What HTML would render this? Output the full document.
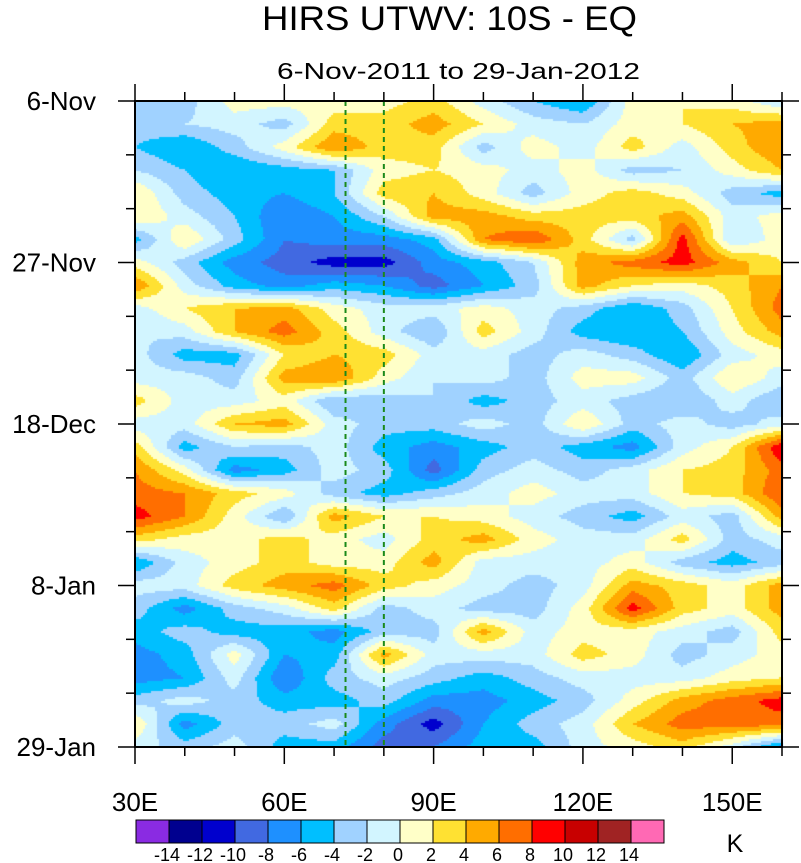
<!DOCTYPE html>
<html><head><meta charset="utf-8"><style>
body{margin:0;background:#fff;font-family:"Liberation Sans",sans-serif;}
#wrap{position:relative;width:801px;height:863px;overflow:hidden;}
canvas{position:absolute;left:0;top:0}
</style></head><body>
<div id="wrap">
<canvas id="heat" width="801" height="863"></canvas>
<svg id="ov" width="801" height="863" style="position:absolute;left:0;top:0">
<text x="262" y="30" font-size="34" textLength="375" lengthAdjust="spacingAndGlyphs">HIRS UTWV: 10S - EQ</text>
<text x="277" y="79" font-size="23" textLength="363" lengthAdjust="spacingAndGlyphs">6-Nov-2011 to 29-Jan-2012</text>
<text x="735" y="852" font-size="25" text-anchor="middle">K</text>
</svg>
</div>
<script>
const lons=[30,40,50,60,70,80,90,100,110,120,130,140,150,160];
const days=[0,3,6,9,12,15,18,21,24,27,30,33,36,39,42,45,48,51,54,57,60,63,66,69,72,75,78,81,84];
const vals=[
[-2,-3,1,1,1,1,3,-1,-4,-6,1,2,1,-2],
[-3,-2,-1,-3,3,3,5,2,-1,-2,1,2,4,5],
[-4,-6,-3,1,6,3,3,-3,1,-1,3,-1,3,6],
[-2,-4,-6,-5,-4,1,2,1,-1,1,-3,-2,1,4],
[2,-3,-5,-6,-4,3,4,1,-3,1,3,1,-3,-5],
[2,-1,-4,-8,-6,-2,5,5,3,3,3,5,-1,1],
[-5,2,-3,-8,-7,-7,-5,6,8,3,-3,9,-2,1],
[1,-3,-7,-9,-11,-11,-7,-5,-2,5,7,9,5,2],
[6,-1,-5,-7,-5,-6,-9,-6,-3,5,2,1,3,6],
[-1,2,4,5,1,-1,-1,1,-1,-3,-6,-3,2,7],
[-2,-1,4,7,3,-1,-4,3,-1,-5,-6,-4,1,5],
[-1,-5,-5,2,4,3,-1,-1,-3,-1,-3,-6,-1,1],
[-1,-1,-3,5,6,1,-2,-1,-3,1,1,-3,2,-1],
[3,-1,-1,1,-4,-3,-2,-5,-3,-1,-3,-4,-1,-4],
[-1,-1,4,5,-1,-3,-3,-1,-3,2,-3,-1,-3,-1],
[3,-5,-2,-3,-1,-5,-7,-5,-3,-5,-7,-1,2,10],
[6,1,-7,-5,-1,-3,-9,-3,-1,-3,-1,2,3,7],
[7,6,3,1,-3,-5,-3,-1,1,-1,-1,2,3,8],
[9,6,1,-4,5,2,2,1,-1,-3,-5,-1,-3,5],
[3,1,1,3,1,-1,3,5,1,-1,-1,3,-3,-1],
[-6,-1,1,3,1,1,5,-1,-1,-1,1,-3,-5,-3],
[-1,-1,3,5,7,3,1,-1,-3,-1,5,3,1,5],
[-3,-7,-3,-1,3,-3,-1,-3,-3,1,9,3,1,5],
[-5,-3,-5,-5,-7,-3,-3,5,-1,1,1,-1,-3,3],
[-7,-5,1,-6,-5,5,-1,-1,-1,3,1,-3,-1,1],
[-7,-6,-1,-8,-3,-1,-3,-5,-3,-1,-1,-1,1,2],
[-3,-1,-3,-5,-5,-3,-7,-7,-5,-3,1,5,7,9],
[2,-7,-3,-3,-1,-7,-11,-6,-3,-1,4,7,7,7],
[-1,-3,-1,-5,-5,-9,-8,-5,-5,-1,1,3,-1,-7]
];
const levels=[-14,-12,-10,-8,-6,-4,-2,0,2,4,6,8,10,12,14];
const levelLabels=["-14","-12","-10","-8","-6","-4","-2","0","2","4","6","8","10","12","14"];
const colors=["#8a2be2","#00008f","#0000cd","#4169e1","#1e90ff","#00bfff","#a0d2ff","#d2f5ff","#ffffc8","#ffe132","#ffaa00","#ff6e00","#ff0000","#c80000","#a02323","#ff69b4"];
const dashLons=[72.3,80];
const xTicksMajor=[30,60,90,120,150];
const xLabels=["30E","60E","90E","120E","150E"];
const yTickDays=[0,7,14,21,28,35,42,49,56,63,70,77,84];
const yLabelDays=[0,21,42,63,84];
const yLabels=["6-Nov","27-Nov","18-Dec","8-Jan","29-Jan"];

const L=135,R=782,T=101,B=747;
const xs=lon=>L+(lon-30)/(160-30)*(R-L);
const ys=d=>T+d/84*(B-T);
function colorFor(v){let i=0;while(i<levels.length&&v>=levels[i])i++;return colors[i];}
function sample(lon,d){
  let i=0;while(i<lons.length-2&&lon>lons[i+1])i++;
  let j=0;while(j<days.length-2&&d>days[j+1])j++;
  const fx=Math.min(1,Math.max(0,(lon-lons[i])/(lons[i+1]-lons[i])));
  const fy=Math.min(1,Math.max(0,(d-days[j])/(days[j+1]-days[j])));
  const a=vals[j][i],b=vals[j][i+1],c=vals[j+1][i],e=vals[j+1][i+1];
  return a*(1-fx)*(1-fy)+b*fx*(1-fy)+c*(1-fx)*fy+e*fx*fy;
}
const ctx=document.getElementById('heat').getContext('2d');
const st=2;
for(let py=T;py<B;py+=st){for(let px=L;px<R;px+=st){
  const lon=30+(px+st/2-L)/(R-L)*130, d=(py+st/2-T)/(B-T)*84;
  ctx.fillStyle=colorFor(sample(lon,d));ctx.fillRect(px,py,st,st);
}}
const NS='http://www.w3.org/2000/svg';
const ov=document.getElementById('ov');
function mk(tag,at,txt){const e=document.createElementNS(NS,tag);for(const k in at)e.setAttribute(k,at[k]);if(txt!==undefined)e.textContent=txt;ov.appendChild(e);return e;}
dashLons.forEach(lon=>{const e=mk('line',{x1:xs(lon),x2:xs(lon),y1:T,y2:B,stroke:'#1a8a1a','stroke-width':2,'stroke-dasharray':'5,4'});

});
const fr=mk('rect',{x:L,y:T,width:R-L,height:B-T,fill:'none',stroke:'#000','stroke-width':2});


for(let lon=30;lon<=160;lon+=10){const maj=xTicksMajor.includes(lon);const len=maj?17:9;
  [[B,B+len],[T,T-len]].forEach(p=>{const e=mk('line',{x1:xs(lon),x2:xs(lon),y1:p[0],y2:p[1],stroke:'#000','stroke-width':1.5});
  
  });}
xTicksMajor.forEach((lon,i)=>{const e=mk('text',{x:xs(lon),y:811,'font-size':26,'text-anchor':'middle'},xLabels[i]);

});
yTickDays.forEach(d=>{const maj=yLabelDays.includes(d);const len=maj?17:9;
  [[L,L-len],[R,R+len]].forEach(p=>{const e=mk('line',{x1:p[0],x2:p[1],y1:ys(d),y2:ys(d),stroke:'#000','stroke-width':1.5});
  
  });});
yLabelDays.forEach((d,i)=>{const e=mk('text',{x:96,y:ys(d)+9,'font-size':26,'text-anchor':'end'},yLabels[i]);

});
const cbL=136,cbW=33,cbT=820,cbH=23;
colors.forEach((c,i)=>{const e=mk('rect',{x:cbL+i*cbW,y:cbT,width:cbW,height:cbH,fill:c,stroke:'#000','stroke-width':1});

});
levelLabels.forEach((t,i)=>{const e=mk('text',{x:cbL+(i+1)*cbW-2,y:861,'font-size':18,'text-anchor':'middle'},t);

});
</script>
</body></html>
